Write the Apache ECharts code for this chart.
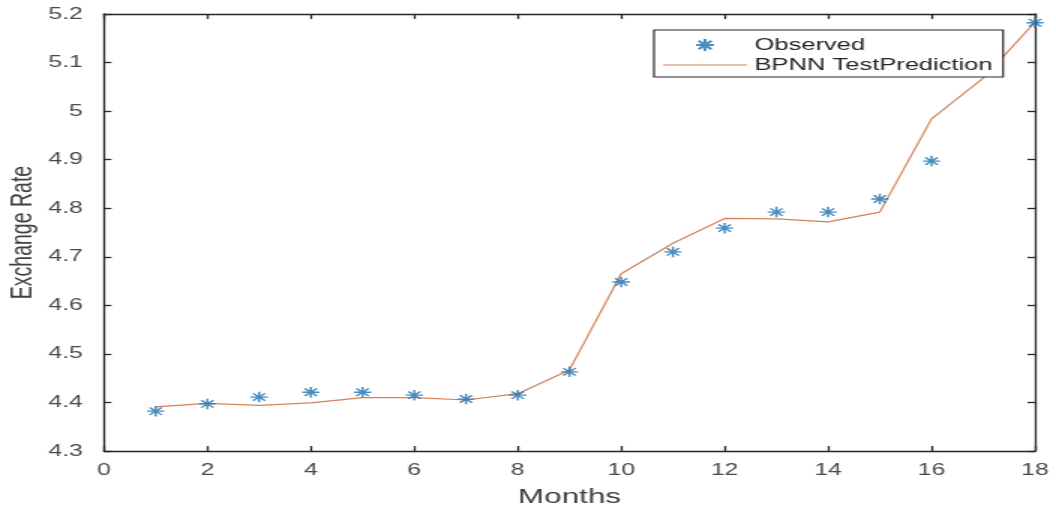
<!DOCTYPE html>
<html><head><meta charset="utf-8">
<script src="https://cdn.jsdelivr.net/npm/echarts@6/dist/echarts.min.js"></script>
<style>
html,body{margin:0;padding:0;background:#fff;overflow:hidden;width:1056px;height:508px}
#c{width:704px;height:508px;transform:scaleX(1.5);transform-origin:0 0}
</style>
</head><body><div id="c"></div>
<script>
const months = [1,2,3,4,5,6,7,8,9,10,11,12,13,14,15,16,18];
const observed = [4.382,4.397,4.411,4.421,4.421,4.415,4.407,4.415,4.463,4.648,4.710,4.759,4.792,4.792,4.819,4.897,5.182];
const predMonths = [1,2,3,4,5,6,7,8,9,10,11,12,13,14,15,16,17,18];
const predicted = [4.391,4.398,4.394,4.399,4.410,4.410,4.405,4.418,4.467,4.665,4.728,4.779,4.778,4.772,4.792,4.984,5.068,5.183];
const xTicks = [0,2,4,6,8,10,12,14,16,18];
const yTicks = [4.3,4.4,4.5,4.6,4.7,4.8,4.9,5,5.1,5.2];

const star = 'path://M0,-10L0,10M-10,0L10,0M-7.07,-7.07L7.07,7.07M-7.07,7.07L7.07,-7.07';
const lineIcon = 'path://M0,0L0.01,0L0,0.01Z M0,5.4L56,5.4L56,6.6L0,6.6Z M56,12L55.99,12L56,11.99Z';
const font = '"Liberation Sans", Arial, Helvetica, sans-serif';
const axisCol = '#262626';
const labelCol = '#4a4a4a';
const obsCol = '#1b6fae';
const predCol = '#d4825a';

const chart = echarts.init(document.getElementById('c'), null, {renderer:'canvas'});
const baseX = {type:'value', min:xTicks[0], max:xTicks[xTicks.length-1], interval:2,
  axisLine:{show:true,onZero:false,lineStyle:{color:axisCol,width:1.3}},
  axisTick:{show:true,inside:true,length:5,lineStyle:{color:axisCol,width:1.3}},
  splitLine:{show:false}};
const baseY = {type:'value', min:yTicks[0], max:yTicks[yTicks.length-1], interval:0.1,
  axisLine:{show:true,onZero:false,lineStyle:{color:axisCol,width:1.3}},
  axisTick:{show:true,inside:true,length:5,lineStyle:{color:axisCol,width:1.3}},
  splitLine:{show:false}};
chart.setOption({
  animation:false,
  backgroundColor:'#fff',
  grid:{left:69.3,right:14,top:14,bottom:57,containLabel:false,outerBoundsMode:'none'},
  xAxis:[
    Object.assign({}, baseX, {position:'bottom', name:'Months', nameLocation:'middle', nameGap:36,
      nameMoveOverlap:false,
      nameTextStyle:{fontFamily:font,fontSize:21,color:'#404040'},
      axisLabel:{show:true,margin:11,fontFamily:font,fontSize:16.5,color:labelCol,
        formatter:v=>String(v)}}),
    Object.assign({}, baseX, {position:'top', axisLabel:{show:false}})
  ],
  yAxis:[
    Object.assign({}, baseY, {position:'left', name:'Exchange Rate', nameLocation:'middle', nameGap:44,
      nameMoveOverlap:false,
      nameTextStyle:{fontFamily:font,fontSize:19.5,color:'#404040'},
      axisLabel:{show:true,margin:14,fontFamily:font,fontSize:16.5,color:labelCol,
        formatter:v=>String(Math.round(v*10)/10)}}),
    Object.assign({}, baseY, {position:'right', axisLabel:{show:false}})
  ],
  legend:{
    orient:'vertical', left:436, top:30,
    backgroundColor:'#fff', borderColor:'#262626', borderWidth:1.2,
    padding:[5,7,2,6], itemGap:0, itemWidth:56, itemHeight:12,
    textStyle:{fontFamily:font,fontSize:17,color:'#262626',lineHeight:20},
    data:[
      {name:'Observed', icon:star},
      {name:'BPNN TestPrediction', icon:lineIcon, itemStyle:{color:predCol,borderWidth:0}}
    ]
  },
  series:[
    {name:'Observed', type:'scatter', xAxisIndex:0, yAxisIndex:0,
      data:months.map((m,i)=>[m,observed[i]]),
      symbol:star, symbolSize:[11.5,10.5], symbolKeepAspect:false,
      itemStyle:{color:'rgba(0,0,0,0)',borderColor:obsCol,borderWidth:1.4}, z:3},
    {name:'BPNN TestPrediction', type:'line', xAxisIndex:0, yAxisIndex:0,
      data:predMonths.map((m,i)=>[m,predicted[i]]),
      showSymbol:false, symbol:'none',
      itemStyle:{color:predCol},
      lineStyle:{color:predCol,width:1.2}, z:2}
  ]
});
</script></body></html>
